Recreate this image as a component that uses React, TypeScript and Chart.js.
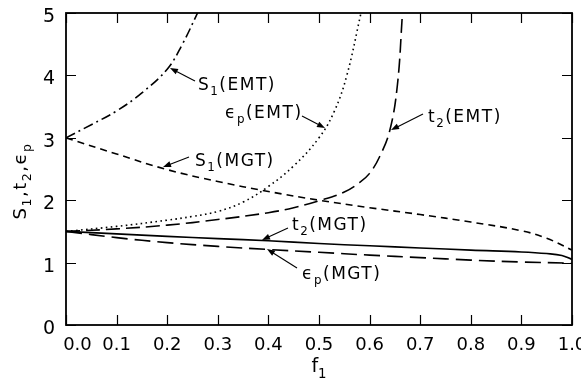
import { useEffect, useRef } from "react";
import { Chart, registerables } from "chart.js";

Chart.register(...registerables);

// ---- data ----
const xTicks = [0, 0.1, 0.2, 0.3, 0.4, 0.5, 0.6, 0.7, 0.8, 0.9, 1.0];
const yTicks = [0, 1, 2, 3, 4, 5];

const s1EmtF = [0, 0.05, 0.1, 0.15, 0.2, 0.23, 0.26];
const s1EmtV = [3.0, 3.21, 3.43, 3.72, 4.1, 4.5, 5.0];

const epsEmtF = [0, 0.1, 0.2, 0.25, 0.3, 0.35, 0.4, 0.45, 0.5, 0.53, 0.555, 0.583];
const epsEmtV = [1.5, 1.58, 1.68, 1.74, 1.82, 1.97, 2.22, 2.55, 3.0, 3.42, 4.0, 5.0];

const t2EmtF = [0, 0.1, 0.2, 0.3, 0.4, 0.45, 0.5, 0.55, 0.58, 0.6, 0.62, 0.64, 0.655, 0.665];
const t2EmtV = [1.5, 1.54, 1.6, 1.69, 1.8, 1.88, 1.99, 2.13, 2.28, 2.43, 2.7, 3.12, 3.85, 5.0];

const s1MgtF = [0, 0.1, 0.2, 0.3, 0.4, 0.5, 0.6, 0.7, 0.8, 0.9, 0.95, 1.0];
const s1MgtV = [3.0, 2.74, 2.49, 2.3, 2.14, 2.0, 1.88, 1.77, 1.65, 1.51, 1.39, 1.2];

const t2MgtF = [0, 0.1, 0.2, 0.3, 0.4, 0.5, 0.6, 0.7, 0.8, 0.9, 0.95, 0.98, 1.0];
const t2MgtV = [1.5, 1.46, 1.42, 1.385, 1.35, 1.305, 1.27, 1.235, 1.2, 1.17, 1.145, 1.115, 1.05];

const epsMgtF = [0, 0.1, 0.2, 0.3, 0.4, 0.5, 0.6, 0.7, 0.8, 0.9, 1.0];
const epsMgtV = [1.5, 1.4, 1.32, 1.26, 1.21, 1.165, 1.12, 1.08, 1.04, 1.01, 0.99];

type Part = { t: string; sub?: boolean };

// annotation labels (text) with their anchor points in data coordinates
const annotations: { parts: Part[]; at: [number, number]; tail: [number, number]; tip: [number, number] }[] = [
  { parts: [{ t: "S" }, { t: "1", sub: true }, { t: "(EMT)" }], at: [0.2609, 3.766], tail: [0.2549, 3.91], tip: [0.2055, 4.119] },
  { parts: [{ t: "ϵ" }, { t: "p", sub: true }, { t: "(EMT)" }], at: [0.3142, 3.317], tail: [0.4664, 3.349], tip: [0.5119, 3.157] },
  { parts: [{ t: "S" }, { t: "1", sub: true }, { t: "(MGT)" }], at: [0.2549, 2.548], tail: [0.2431, 2.692], tip: [0.1917, 2.532] },
  { parts: [{ t: "t" }, { t: "2", sub: true }, { t: "(EMT)" }], at: [0.7154, 3.253], tail: [0.7055, 3.381], tip: [0.6423, 3.125] },
  { parts: [{ t: "t" }, { t: "2", sub: true }, { t: "(MGT)" }], at: [0.4466, 1.522], tail: [0.4387, 1.554], tip: [0.3874, 1.362] },
  { parts: [{ t: "ϵ" }, { t: "p", sub: true }, { t: "(MGT)" }], at: [0.4664, 0.735], tail: [0.4565, 0.913], tip: [0.3972, 1.218] },
];

const yTitle: Part[] = [
  { t: "S" }, { t: "1", sub: true }, { t: "," }, { t: "t" }, { t: "2", sub: true }, { t: "," }, { t: "ϵ" }, { t: "p", sub: true },
];
const xTitle: Part[] = [{ t: "f" }, { t: "1", sub: true }];

const FONT = "'DejaVu Sans', sans-serif";

function setFont(ctx: CanvasRenderingContext2D, size: number, spacing: number) {
  ctx.font = `${size}px ${FONT}`;
  (ctx as any).letterSpacing = `${spacing}px`;
}

function measureRich(ctx: CanvasRenderingContext2D, parts: Part[], size: number, spacing: number) {
  let w = 0;
  for (const p of parts) {
    setFont(ctx, p.sub ? size * 0.7 : size, spacing);
    w += ctx.measureText(p.t).width;
  }
  return w;
}

function drawRich(ctx: CanvasRenderingContext2D, parts: Part[], x: number, y: number, size: number, spacing: number) {
  let cx = x;
  ctx.textAlign = "left";
  ctx.textBaseline = "alphabetic";
  for (const p of parts) {
    const s = p.sub ? size * 0.7 : size;
    setFont(ctx, s, spacing);
    ctx.fillText(p.t, cx, p.sub ? y + size * 0.3 : y);
    cx += ctx.measureText(p.t).width;
  }
  (ctx as any).letterSpacing = "0px";
}

const TL = 10;

const decor = {
  id: "decor",
  afterDraw(chart: any) {
    const { ctx, chartArea: a, scales } = chart;
    const x = scales.x;
    const y = scales.y;
    ctx.save();
    ctx.strokeStyle = "#000";
    ctx.fillStyle = "#000";
    ctx.lineWidth = 1.8;
    ctx.setLineDash([]);
    ctx.strokeRect(a.left, a.top, a.right - a.left, a.bottom - a.top);
    ctx.lineWidth = 1.2;
    ctx.beginPath();
    xTicks.forEach((v) => {
      const px = Math.round(x.getPixelForValue(v)) + 0.5;
      ctx.moveTo(px, a.bottom);
      ctx.lineTo(px, a.bottom - TL);
      ctx.moveTo(px, a.top);
      ctx.lineTo(px, a.top + TL);
    });
    yTicks.forEach((v) => {
      const py = Math.round(y.getPixelForValue(v)) + 0.5;
      ctx.moveTo(a.left, py);
      ctx.lineTo(a.left + TL, py);
      ctx.moveTo(a.right, py);
      ctx.lineTo(a.right - TL, py);
    });
    ctx.stroke();

    // annotations
    annotations.forEach((an) => {
      const lx = x.getPixelForValue(an.at[0]);
      const ly = y.getPixelForValue(an.at[1]);
      drawRich(ctx, an.parts, lx, ly, 17, 1.5);
      const tx = x.getPixelForValue(an.tail[0]);
      const ty = y.getPixelForValue(an.tail[1]);
      const hx = x.getPixelForValue(an.tip[0]);
      const hy = y.getPixelForValue(an.tip[1]);
      const ang = Math.atan2(hy - ty, hx - tx);
      const len = 8;
      const hw = 3;
      ctx.lineWidth = 1.1;
      ctx.beginPath();
      ctx.moveTo(tx, ty);
      ctx.lineTo(hx - Math.cos(ang) * len * 0.8, hy - Math.sin(ang) * len * 0.8);
      ctx.stroke();
      ctx.beginPath();
      ctx.moveTo(hx, hy);
      ctx.lineTo(hx - Math.cos(ang) * len - Math.sin(ang) * hw, hy - Math.sin(ang) * len + Math.cos(ang) * hw);
      ctx.lineTo(hx - Math.cos(ang) * len + Math.sin(ang) * hw, hy - Math.sin(ang) * len - Math.cos(ang) * hw);
      ctx.closePath();
      ctx.fill();
    });

    // x title
    const xw = measureRich(ctx, xTitle, 19, 0);
    drawRich(ctx, xTitle, (a.left + a.right) / 2 - xw / 2, 372, 19, 0);

    // y title
    const yw = measureRich(ctx, yTitle, 18, 1.5);
    ctx.translate(26, 181);
    ctx.rotate(-Math.PI / 2);
    drawRich(ctx, yTitle, -yw / 2, 0, 18, 1.5);
    ctx.restore();
  },
};

function series(f: number[], v: number[]) {
  return f.map((fx, i) => ({ x: fx, y: v[i] }));
}

export default function App() {
  const ref = useRef<HTMLCanvasElement>(null);
  useEffect(() => {
    if (!ref.current) return;
    const base = {
      borderColor: "#000",
      borderWidth: 1.6,
      pointRadius: 0,
      fill: false,
      tension: 0.4,
    };
    const chart = new Chart(ref.current, {
      type: "line",
      data: {
        datasets: [
          { ...base, label: "S1(EMT)", data: series(s1EmtF, s1EmtV), borderDash: [10, 4, 2, 4] },
          { ...base, label: "εp(EMT)", data: series(epsEmtF, epsEmtV), borderDash: [1.6, 3.4] },
          { ...base, label: "t2(EMT)", data: series(t2EmtF, t2EmtV), borderDash: [14, 6] },
          { ...base, label: "S1(MGT)", data: series(s1MgtF, s1MgtV), borderDash: [7, 5] },
          { ...base, label: "t2(MGT)", data: series(t2MgtF, t2MgtV) },
          { ...base, label: "εp(MGT)", data: series(epsMgtF, epsMgtV), borderDash: [16, 7] },
        ],
      },
      options: {
        animation: false,
        responsive: false,
        devicePixelRatio: 1,
        layout: { padding: { left: 0, right: 9, top: 13, bottom: 0 } },
        plugins: { legend: { display: false }, tooltip: { enabled: false } },
        scales: {
          x: {
            type: "linear",
            min: 0,
            max: 1,
            grid: { display: false, drawTicks: false },
            border: { display: false },
            afterBuildTicks: (s: any) => {
              s.ticks = xTicks.map((v) => ({ value: v }));
            },
            afterFit: (s: any) => {
              s.height = 60;
              s.paddingLeft = 0;
              s.paddingRight = 0;
            },
            ticks: {
              color: "#000",
              font: { family: FONT, size: 18 },
              padding: 10,
              maxRotation: 0,
              autoSkip: false,
              callback: (v: any) => (Number(v) === 0 ? "    0.0" : Number(v).toFixed(1)),
            },
          },
          y: {
            min: 0,
            max: 5,
            grid: { display: false, drawTicks: false },
            border: { display: false },
            afterBuildTicks: (s: any) => {
              s.ticks = yTicks.map((v) => ({ value: v }));
            },
            afterFit: (s: any) => {
              s.width = 66;
              s.paddingTop = 0;
              s.paddingBottom = 0;
            },
            ticks: {
              color: "#000",
              font: { family: FONT, size: 19 },
              padding: 11,
              labelOffset: 4,
              autoSkip: false,
              callback: (v: any) => String(v),
            },
          },
        },
      },
      plugins: [decor],
    });
    return () => chart.destroy();
  }, []);
  return (
    <div style={{ position: "fixed", left: 0, top: 0, width: 581, height: 385, background: "#fff" }}>
      <canvas ref={ref} width={581} height={385} style={{ width: 581, height: 385, display: "block" }} />
    </div>
  );
}
